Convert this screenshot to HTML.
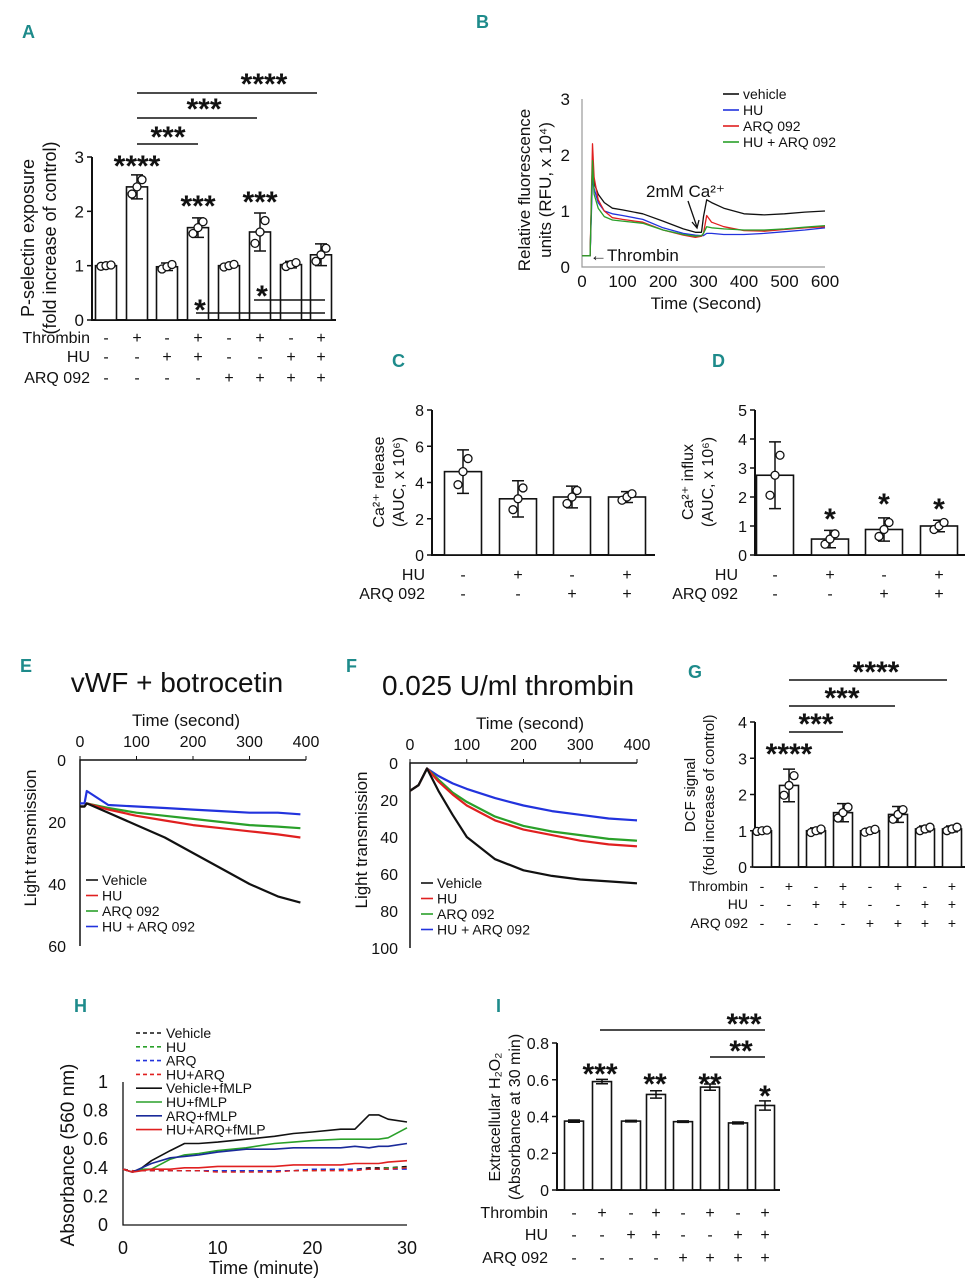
<!DOCTYPE html>
<html><head><meta charset="utf-8">
<style>
html,body{margin:0;padding:0;background:#fff;}
svg{display:block;font-family:"Liberation Sans",sans-serif;}
.t{font-size:16px;fill:#111;}
.s{font-size:14px;fill:#111;}
.lab{font-size:18px;font-weight:bold;fill:#1e8b8b;}
.star{font-size:30px;font-weight:bold;fill:#111;}
</style></head>
<body>
<svg id="fig" width="975" height="1280" viewBox="0 0 975 1280" xmlns="http://www.w3.org/2000/svg">
<g>
<text class="lab" x="22" y="38">A</text><text class="lab" x="476" y="28">B</text>
<text class="lab" x="392" y="367">C</text><text class="lab" x="712" y="367">D</text>
<text class="lab" x="20" y="672">E</text><text class="lab" x="346" y="672">F</text>
<text class="lab" x="688" y="678">G</text><text class="lab" x="74" y="1012">H</text>
<text class="lab" x="496" y="1012">I</text>
</g>
</svg>
<script>
// ---------- DATA ----------
const aValues=[1.0,2.45,0.98,1.7,1.0,1.62,1.02,1.2];
const aErr=[0.02,0.22,0.07,0.18,0.04,0.35,0.06,0.2];
const aThrombin=['-','+','-','+','-','+','-','+'];
const aHU=['-','-','+','+','-','-','+','+'];
const aARQ=['-','-','-','-','+','+','+','+'];
const aTicks=[0,1,2,3];

const cValues=[4.6,3.1,3.2,3.2];
const cErr=[1.2,1.0,0.6,0.3];
const cTicks=[0,2,4,6,8];
const dValues=[2.75,0.55,0.88,1.0];
const dErr=[1.15,0.3,0.4,0.2];
const dTicks=[0,1,2,3,4,5];
const cdHU=['-','+','-','+'];
const cdARQ=['-','-','+','+'];

const gValues=[1.0,2.25,1.0,1.5,1.0,1.45,1.05,1.05];
const gErr=[0.03,0.45,0.08,0.25,0.07,0.22,0.08,0.08];
const gTicks=[0,1,2,3,4];

const iValues=[0.375,0.59,0.375,0.52,0.372,0.56,0.365,0.46];
const iErr=[0.006,0.012,0.004,0.02,0.004,0.017,0.005,0.025];
const iTicks=[0,0.2,0.4,0.6,0.8];
const iTickLabels=['0','0.2','0.4','0.6','0.8'];

const bTimes=[0,20,26,30,40,55,75,100,150,200,250,280,295,300,308,320,350,400,450,500,550,600];
const bVehicle=[0.2,0.2,1.9,1.5,1.3,1.15,1.05,1.02,0.95,0.82,0.68,0.62,0.62,0.9,1.2,1.15,1.05,0.95,0.93,0.95,0.98,1.0];
const bHU=[0.2,0.2,1.6,1.4,1.15,1.0,0.95,0.92,0.85,0.7,0.6,0.57,0.56,0.56,0.6,0.6,0.58,0.58,0.6,0.63,0.66,0.7];
const bARQ=[0.2,0.2,2.2,1.6,1.2,1.0,0.88,0.85,0.8,0.66,0.57,0.53,0.55,0.6,0.92,0.8,0.72,0.65,0.64,0.67,0.7,0.72];
const bHUARQ=[0.2,0.2,1.9,1.3,1.05,0.9,0.84,0.82,0.78,0.66,0.58,0.55,0.56,0.6,0.72,0.7,0.68,0.66,0.66,0.68,0.71,0.74];
const bXTicks=[0,100,200,300,400,500,600];
const bYTicks=[0,1,2,3];

const eTimes=[0,8,12,50,100,150,200,250,300,350,390];
const eVehicle=[15,15,14,17,21,25,30,35,40,44,46];
const eHU=[15,15,14,16,18,19.5,21,22,23,24,25];
const eARQ=[15,15,14,15.5,17,18,19,20,21,21.5,22];
const eHUARQ=[14,14,10,14.5,15,15.5,16,16.5,17,17,17.5];
const eXTicks=[0,100,200,300,400];
const eYTicks=[0,20,40,60];

const fTimes=[0,15,30,50,75,100,150,200,250,300,350,400];
const fVehicle=[15,12,3,15,28,40,52,58,61,63,64,65];
const fHU=[15,12,3,10,17,23,31,36,39,42,44,45];
const fARQ=[15,12,3,9,16,21,29,34,37,39,41,42];
const fHUARQ=[15,12,3,7,11,14,19,23,26,28,30,31];
const fXTicks=[0,100,200,300,400];
const fYTicks=[0,20,40,60,80,100];

const hTimes=[0,1,2,3,5,6.5,8,10,13,16,18,20,23,24.5,26,27,28,30];
const hVehFMLP=[0.39,0.37,0.4,0.45,0.52,0.57,0.57,0.58,0.6,0.62,0.64,0.65,0.67,0.67,0.77,0.77,0.74,0.72];
const hHUFMLP=[0.39,0.37,0.39,0.39,0.46,0.49,0.5,0.52,0.54,0.57,0.58,0.59,0.6,0.6,0.6,0.6,0.61,0.68];
const hARQFMLP=[0.39,0.37,0.4,0.43,0.47,0.48,0.49,0.51,0.53,0.53,0.54,0.54,0.54,0.55,0.54,0.55,0.55,0.57];
const hHUARQFMLP=[0.39,0.37,0.38,0.39,0.39,0.4,0.4,0.41,0.41,0.41,0.42,0.42,0.42,0.43,0.43,0.43,0.44,0.45];
const hVeh=[0.39,0.38,0.38,0.38,0.38,0.38,0.38,0.38,0.38,0.38,0.38,0.39,0.39,0.39,0.4,0.4,0.4,0.41];
const hHU=[0.39,0.38,0.38,0.38,0.38,0.38,0.38,0.38,0.38,0.38,0.38,0.38,0.39,0.39,0.39,0.39,0.4,0.4];
const hARQ=[0.39,0.38,0.38,0.38,0.38,0.38,0.38,0.38,0.38,0.38,0.38,0.39,0.39,0.39,0.39,0.39,0.39,0.39];
const hHUARQ=[0.39,0.38,0.38,0.38,0.38,0.38,0.38,0.37,0.37,0.37,0.38,0.38,0.38,0.38,0.39,0.39,0.39,0.4];
const hXTicks=[0,10,20,30];
const hYTicks=[0,0.2,0.4,0.6,0.8,1];
const hYTickLabels=['0','0.2','0.4','0.6','0.8','1'];

// ---------- HELPERS ----------
const NS='http://www.w3.org/2000/svg';
const svg=document.getElementById('fig');
function mk(tag,attrs,parent){const e=document.createElementNS(NS,tag);for(const k in attrs)e.setAttribute(k,attrs[k]);(parent||svg).appendChild(e);return e;}
function txt(s,x,y,cls,anchor,parent,extra){
  const a=Object.assign({x:x,y:y,class:cls,'text-anchor':anchor||'start'},extra||{});
  if(a['font-size']){a.style='font-size:'+a['font-size']+'px';delete a['font-size'];}
  const e=mk('text',a,parent);e.textContent=s;return e;}
function grp(name){const g=mk('g',{});


return g;}

// Bar chart
function barChart(name,cfg,values,errs,ticks,tickLabels){
  const g=grp(name);
  const ys=v=>cfg.y0-(v-0)*(cfg.y0-cfg.yTop)/(ticks[ticks.length-1]);
  const ax=mk('path',{d:`M${cfg.ax} ${cfg.yTop} V${cfg.y0} H${cfg.xEnd}`,stroke:'#111','stroke-width':2,fill:'none'},g);
  
  
  ticks.forEach((t,i)=>{
    const y=ys(t);
    mk('line',{x1:cfg.ax-5,x2:cfg.ax,y1:y,y2:y,stroke:'#111','stroke-width':1.5},g);
    const tl=txt(tickLabels?tickLabels[i]:String(t),cfg.ax-8,y+6,'t','end',g,cfg.fs?{'font-size':cfg.fs}:null);
    
    
  });
  values.forEach((v,i)=>{
    const cx=cfg.centers[i],w=cfg.bw;
    const r=mk('rect',{x:cx-w/2,y:ys(v),width:w,height:cfg.y0-ys(v),fill:'#fff',stroke:'#111','stroke-width':1.6},g);
    
    
    const e=errs[i];
    const eb=mk('path',{d:`M${cx} ${ys(v+e)} V${ys(v-e)} M${cx-6} ${ys(v+e)} H${cx+6} M${cx-6} ${ys(v-e)} H${cx+6}`,stroke:'#111','stroke-width':1.5,fill:'none'},g);
    
    
    if(cfg.pts){
      [-0.6,0,0.6].forEach((f,k)=>{
        const c=mk('circle',{cx:cx+(k-1)*5,cy:ys(v+f*e),r:4,fill:'#fff',stroke:'#111','stroke-width':1.3},g);
        
        
      });
    }
  });
  return g;
}
function signRows(name,centers,rows,labels,ys,labelX,cls){
  const g=grp(name);
  rows.forEach((row,r)=>{
    const l=txt(labels[r],labelX,ys[r],cls,'end',g);
    
    
    row.forEach((s,i)=>{const t=txt(s,centers[i],ys[r],cls,'middle',g);
      
      });
  });
}
function sig(g,x1,x2,y,label,lx,ly){
  if(x1!==null){const l=mk('line',{x1:x1,x2:x2,y1:y,y2:y,stroke:'#111','stroke-width':1.6},g);
  
  }
  if(label){const s=txt(label,lx,ly+4,'star','middle',g);
  
  }
}
// Line chart
function lineChart(name,xs,ysF,times,series,colors,dashes,width){
  const g=grp(name);
  series.forEach((s,k)=>{
    let d='';s.forEach((v,i)=>{d+=(i?'L':'M')+xs(times[i]).toFixed(1)+' '+ysF(v).toFixed(1)+' ';});
    const p=mk('path',{d:d,stroke:colors[k],'stroke-width':width||1.6,fill:'none','stroke-dasharray':dashes?dashes[k]:'none','stroke-linejoin':'round'},g);
    
    
  });
  return g;
}
function legend(name,items,colors,x,y,dy,len,dashes,cls){
  const g=grp(name);
  items.forEach((s,i)=>{
    const l=mk('line',{x1:x,x2:x+len,y1:y+i*dy-5,y2:y+i*dy-5,stroke:colors[i],'stroke-width':1.6,'stroke-dasharray':dashes?dashes[i]:'none'},g);
    
    
    const t=txt(s,x+len+4,y+i*dy,cls||'s','start',g);
    
    
  });
}
function yTitle(name,lines,x,y,parent,size){
  const g=grp(name);
  lines.forEach((s,i)=>{const t=txt(s,0,0,'t','middle',g,{transform:`translate(${x+i*((size||16)+4)},${y}) rotate(-90)`,'font-size':size||16});
    
    });
}

// ---------- PANEL A ----------
const aCenters=[106,137,167,198,229,260,291,321];
barChart('panel-a-bars',{ax:92,y0:320,yTop:157,xEnd:336,centers:aCenters,bw:21,pts:true,fs:17},aValues,aErr,aTicks);
yTitle('panel-a-y-title',['P-selectin exposure','(fold increase of control)'],34,238,null,18);
signRows('panel-a-treatments',aCenters,[aThrombin,aHU,aARQ],['Thrombin','HU','ARQ 092'],[343,362,383],90,'t');
{const g=grp('panel-a-significance');
sig(g,137,317,93,'****',264,90);sig(g,137,257,118,'***',204,115);sig(g,137,198,144,'***',168,143);
sig(g,null,0,0,'****',137,172);sig(g,null,0,0,'***',198,212);sig(g,null,0,0,'***',260,208);
sig(g,196,325,313,'*',200,316);sig(g,254,325,300,'*',262,302);}

// ---------- PANEL B ----------
const bx=t=>582+t*(825-582)/600, by=v=>267-v*(267-99)/3;
{const g=grp('panel-b-axes');
mk('path',{d:`M582 99 V267 H825`,stroke:'#999','stroke-width':1.2,fill:'none'},g);
bXTicks.forEach(t=>{const e=txt(String(t),bx(t),287,'t','middle',g,{'font-size':17});});
bYTicks.forEach(t=>{const e=txt(String(t),570,by(t)+6,'t','end',g,{'font-size':17});});
const xt=txt('Time (Second)',706,309,'t','middle',g,{'font-size':17});}
yTitle('panel-b-y-title',['Relative fluorescence','units (RFU, x 10⁴)'],530,190,null,17);
lineChart('panel-b-lines',bx,by,bTimes,[bVehicle,bHU,bARQ,bHUARQ],['#111','#2233dd','#e02020','#2aa02a'],null,1.3);
legend('panel-b-legend',['vehicle','HU','ARQ 092','HU + ARQ 092'],['#111','#2233dd','#e02020','#2aa02a'],723,99,16,16,null,'s');
{const g=grp('panel-b-annotations');
const t1=txt('2mM Ca²⁺',646,197,'t','start',g,{'font-size':17});
mk('path',{d:'M688 201 L697 227 M692 222 L697 228 L699 220',stroke:'#111','stroke-width':1.3,fill:'none'},g);
const t2=txt('←Thrombin',590,261,'t','start',g,{'font-size':17});}

// ---------- PANEL C & D ----------
const cCenters=[463,518,572,627], dCenters=[775,830,884,939];
barChart('panel-c-bars',{ax:432,y0:555,yTop:410,xEnd:655,centers:cCenters,bw:37,pts:true},cValues,cErr,cTicks);
yTitle('panel-c-y-title',['Ca²⁺ release','(AUC, x 10⁶)'],384,482);
signRows('panel-c-treatments',cCenters,[cdHU,cdARQ],['HU','ARQ 092'],[580,599],425,'t');
barChart('panel-d-bars',{ax:755,y0:555,yTop:410,xEnd:965,centers:dCenters,bw:37,pts:true},dValues,dErr,dTicks);
yTitle('panel-d-y-title',['Ca²⁺ influx','(AUC, x 10⁶)'],693,482);
signRows('panel-d-treatments',dCenters,[cdHU,cdARQ],['HU','ARQ 092'],[580,599],738,'t');
{const g=grp('panel-d-significance');sig(g,null,0,0,'*',830,525);sig(g,null,0,0,'*',884,510);sig(g,null,0,0,'*',939,515);}

// ---------- PANEL E ----------
const ex=t=>80+t*(306-80)/400, ey=v=>760+v*(946-760)/60;
{const g=grp('panel-e-axes');
const tt=txt('vWF + botrocetin',177,692,'t','middle',g,{'font-size':28});
const xt=txt('Time (second)',186,726,'t','middle',g,{'font-size':17});
mk('path',{d:`M306 760 H80 V946`,stroke:'#111','stroke-width':1.5,fill:'none'},g);
eXTicks.forEach(t=>{mk('line',{x1:ex(t),x2:ex(t),y1:756,y2:760,stroke:'#111'},g);const e=txt(String(t),ex(t),747,'t','middle',g);});
eYTicks.forEach(t=>{const e=txt(String(t),66,ey(t)+6,'t','end',g);});}
yTitle('panel-e-y-title',['Light transmission'],36,838,null,17);
lineChart('panel-e-lines',ex,ey,eTimes,[eHUARQ,eARQ,eHU,eVehicle],['#2233dd','#2aa02a','#e02020','#111'],null,2.2);
legend('panel-e-legend',['Vehicle','HU','ARQ 092','HU + ARQ 092'],['#111','#e02020','#2aa02a','#2233dd'],86,885,15.5,12,null,'s');

// ---------- PANEL F ----------
const fx=t=>410+t*(637-410)/400, fy=v=>763+v*(948-763)/100;
{const g=grp('panel-f-axes');
const tt=txt('0.025 U/ml thrombin',508,695,'t','middle',g,{'font-size':28});
const xt=txt('Time (second)',530,729,'t','middle',g,{'font-size':17});
mk('path',{d:`M637 763 H410 V948`,stroke:'#111','stroke-width':1.5,fill:'none'},g);
fXTicks.forEach(t=>{mk('line',{x1:fx(t),x2:fx(t),y1:759,y2:763,stroke:'#111'},g);const e=txt(String(t),fx(t),750,'t','middle',g);});
fYTicks.forEach(t=>{const e=txt(String(t),398,fy(t)+6,'t','end',g);});}
yTitle('panel-f-y-title',['Light transmission'],367,840,null,17);
lineChart('panel-f-lines',fx,fy,fTimes,[fHUARQ,fARQ,fHU,fVehicle],['#2233dd','#2aa02a','#e02020','#111'],null,2.2);
legend('panel-f-legend',['Vehicle','HU','ARQ 092','HU + ARQ 092'],['#111','#e02020','#2aa02a','#2233dd'],421,888,15.5,12,null,'s');

// ---------- PANEL G ----------
const gCenters=[762,789,816,843,870,898,925,952];
barChart('panel-g-bars',{ax:755,y0:867,yTop:722,xEnd:965,centers:gCenters,bw:19,pts:true},gValues,gErr,gTicks);
yTitle('panel-g-y-title',['DCF signal','(fold increase of control)'],695,795,null,15);
signRows('panel-g-treatments',gCenters,[aThrombin,aHU,aARQ],['Thrombin','HU','ARQ 092'],[891,909,928],748,'s');
{const g=grp('panel-g-significance');
sig(g,789,947,680,'****',876,678);sig(g,789,895,706,'***',842,704);sig(g,789,843,732,'***',816,730);sig(g,null,0,0,'****',789,760);}

// ---------- PANEL H ----------
const hx=t=>123+t*(407-123)/30, hy=v=>1225-v*(1225-1082);
{const g=grp('panel-h-axes');
mk('path',{d:`M123 1082 V1225 H407`,stroke:'#111','stroke-width':1.3,fill:'none'},g);
hXTicks.forEach(t=>{const e=txt(String(t),hx(t),1254,'t','middle',g,{'font-size':18});});
hYTicks.forEach((t,i)=>{const e=txt(hYTickLabels[i],108,hy(t)+6,'t','end',g,{'font-size':18});});
const xt=txt('Time (minute)',264,1274,'t','middle',g,{'font-size':18});}
yTitle('panel-h-y-title',['Absorbance (560 nm)'],74,1155,null,19);
lineChart('panel-h-dashed-lines',hx,hy,hTimes,[hVeh,hHU,hARQ,hHUARQ],['#111','#2aa02a','#2233dd','#e02020'],['5,4','5,4','5,4','5,4'],1.4);
lineChart('panel-h-solid-lines',hx,hy,hTimes,[hVehFMLP,hHUFMLP,hARQFMLP,hHUARQFMLP],['#111','#2aa02a','#1a2a9a','#e02020'],null,1.6);
legend('panel-h-legend',['Vehicle','HU','ARQ','HU+ARQ','Vehicle+fMLP','HU+fMLP','ARQ+fMLP','HU+ARQ+fMLP'],['#111','#2aa02a','#2233dd','#e02020','#111','#2aa02a','#1a2a9a','#e02020'],136,1038,13.8,26,['4,3','4,3','4,3','4,3','none','none','none','none'],'s');

// ---------- PANEL I ----------
const iCenters=[574,602,631,656,683,710,738,765];
barChart('panel-i-bars',{ax:557,y0:1190,yTop:1043,xEnd:780,centers:iCenters,bw:19,pts:false},iValues,iErr,iTicks,iTickLabels);
yTitle('panel-i-y-title',['Extracellular H₂O₂','(Absorbance at 30 min)'],500,1117,null,16);
signRows('panel-i-treatments',iCenters,[aThrombin,aHU,aARQ],['Thrombin','HU','ARQ 092'],[1218,1240,1263],548,'t');
{const g=grp('panel-i-significance');
sig(g,600,765,1030,'***',744,1030);sig(g,710,765,1057,'**',741,1057);
sig(g,null,0,0,'***',600,1080);sig(g,null,0,0,'**',655,1090);sig(g,null,0,0,'**',710,1090);sig(g,null,0,0,'*',765,1102);}
</script>
</body></html>
